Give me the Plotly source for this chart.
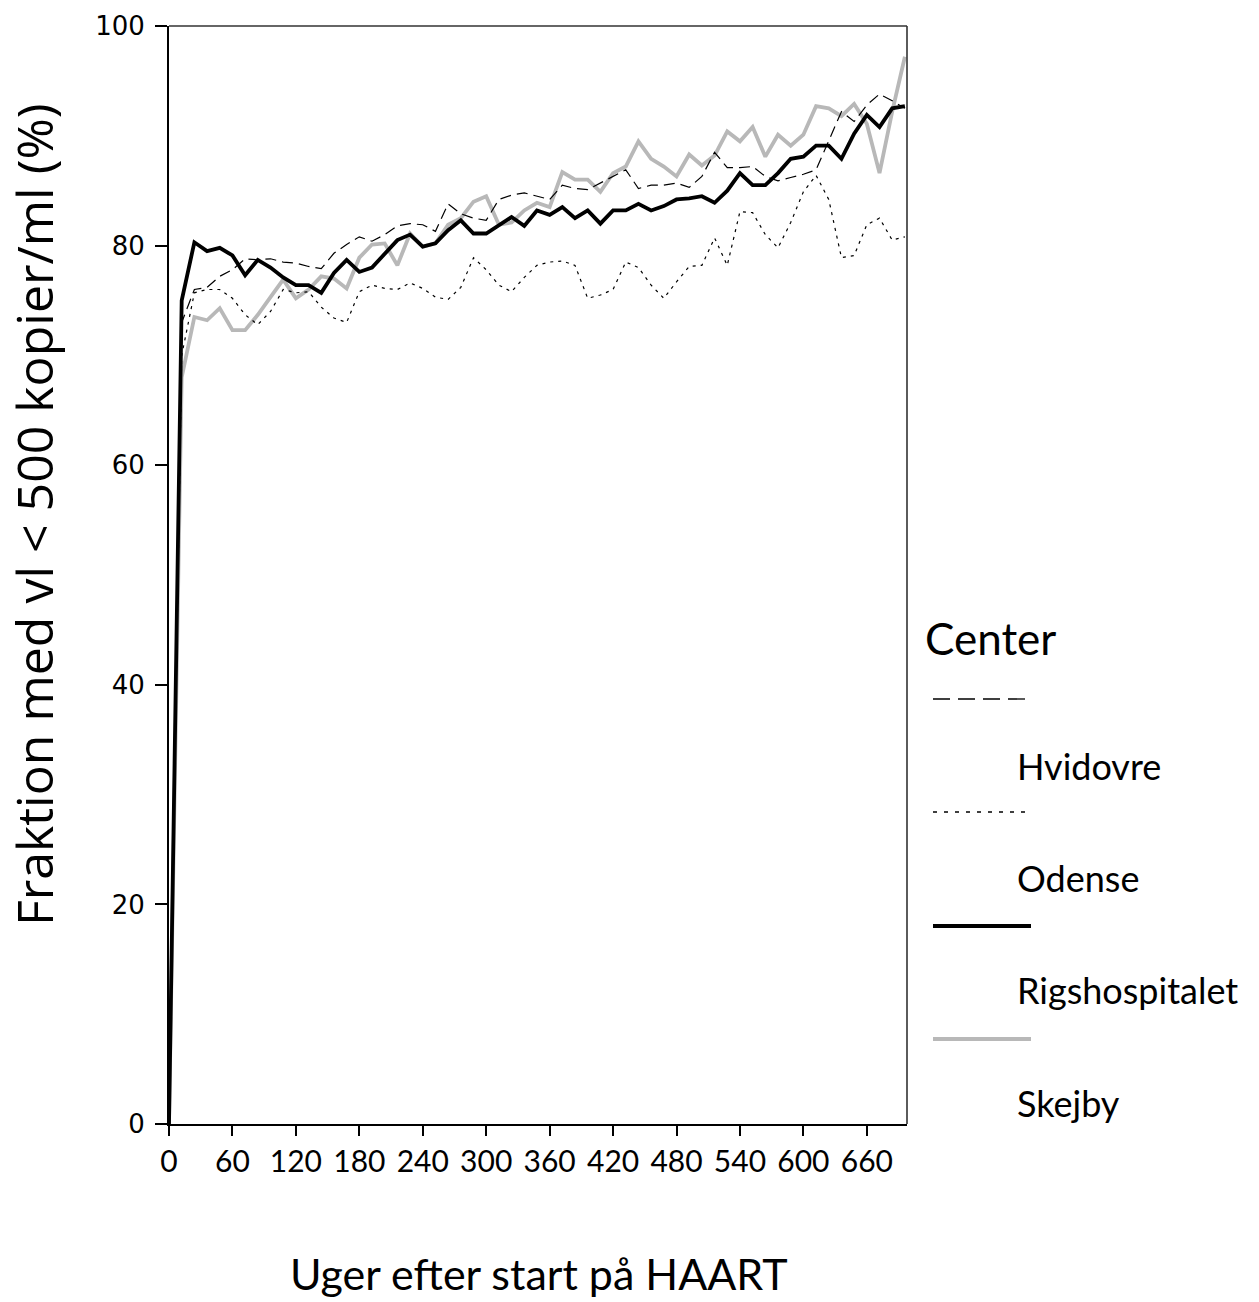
import plotly.graph_objects as go

weeks = [0, 12, 24, 36, 48, 60, 72, 84, 96, 108, 120, 132, 144, 156, 168, 180, 192, 204, 216, 228,
         240, 252, 264, 276, 288, 300, 312, 324, 336, 348, 360, 372, 384, 396, 408, 420, 432, 444, 456, 468,
         480, 492, 504, 516, 528, 540, 552, 564, 576, 588, 600, 612, 624, 636, 648, 660, 672, 684, 696]

hvidovre = [0, 73.0, 76.0, 76.2, 77.2, 77.8, 78.8, 78.7, 78.8, 78.5, 78.4, 78.1, 77.9, 79.3, 80.1, 80.8,
            80.4, 81.0, 81.8, 82.0, 81.9, 81.3, 83.8, 82.9, 82.5, 82.3, 84.2, 84.6, 84.8, 84.5, 84.2, 85.5,
            85.2, 85.1, 85.7, 86.3, 86.9, 85.2, 85.5, 85.5, 85.7, 85.3, 86.3, 88.5, 87.1, 87.1, 87.2, 86.3,
            85.9, 86.2, 86.5, 86.9, 89.6, 92.2, 91.3, 92.8, 93.8, 93.2, 92.5]

odense = [0, 70.0, 75.7, 76.0, 76.0, 75.2, 73.7, 72.8, 74.0, 76.0, 75.7, 75.8, 74.4, 73.4, 73.0, 75.8,
          76.4, 76.1, 76.0, 76.6, 76.1, 75.3, 75.1, 76.2, 78.9, 77.8, 76.4, 75.8, 77.1, 78.2, 78.5, 78.6,
          78.2, 75.2, 75.5, 76.0, 78.5, 78.0, 76.4, 75.2, 76.7, 78.1, 78.2, 80.7, 78.2, 83.1, 83.0, 81.0,
          79.8, 82.1, 84.9, 86.4, 84.2, 78.9, 79.1, 81.9, 82.5, 80.5, 80.8]

rigshospitalet = [0, 75.0, 80.3, 79.5, 79.8, 79.1, 77.3, 78.7, 78.0, 77.1, 76.4, 76.4, 75.7, 77.5, 78.7, 77.6,
                  78.0, 79.2, 80.5, 81.0, 79.9, 80.2, 81.4, 82.3, 81.1, 81.1, 81.9, 82.6, 81.8, 83.2, 82.8, 83.5,
                  82.5, 83.2, 82.0, 83.2, 83.2, 83.8, 83.2, 83.6, 84.2, 84.3, 84.5, 83.9, 85.0, 86.6, 85.5, 85.5,
                  86.6, 87.9, 88.1, 89.1, 89.1, 87.9, 90.2, 91.9, 90.8, 92.5, 92.7]

skejby = [0, 68.0, 73.5, 73.2, 74.3, 72.3, 72.3, 73.7, 75.3, 76.9, 75.2, 76.0, 77.2, 77.0, 76.1, 78.9,
          80.1, 80.2, 78.2, 81.1, 79.9, 80.2, 81.9, 82.5, 84.0, 84.5, 81.9, 82.1, 83.2, 83.9, 83.5, 86.7,
          86.0, 86.0, 84.9, 86.6, 87.2, 89.5, 87.9, 87.2, 86.3, 88.3, 87.3, 88.2, 90.4, 89.5, 90.8, 88.1,
          90.1, 89.1, 90.1, 92.7, 92.5, 91.8, 92.9, 91.1, 86.6, 92.2, 97.2]

x_ticks = [0, 60, 120, 180, 240, 300, 360, 420, 480, 540, 600, 660]
y_ticks = [0, 20, 40, 60, 80, 100]

centers = ["Hvidovre", "Odense", "Rigshospitalet", "Skejby"]
styles = {
    "Hvidovre": dict(color="black", width=1.2, dash="11px,6px"),
    "Odense": dict(color="black", width=1.2, dash="3px,5px"),
    "Rigshospitalet": dict(color="black", width=3.8, dash="solid"),
    "Skejby": dict(color="#b8b8b8", width=3.8, dash="solid"),
}
series = {"Hvidovre": hvidovre, "Odense": odense, "Rigshospitalet": rigshospitalet, "Skejby": skejby}

fig = go.Figure()
for name in ["Skejby", "Rigshospitalet", "Hvidovre", "Odense"]:
    fig.add_trace(go.Scatter(x=weeks, y=series[name], mode="lines", name=name,
                             line=styles[name], showlegend=False))

# plot area in pixels: left 169, right 907, top 26, bottom 1124
L, R, T, B = 169, 907, 26, 1124
W, H = R - L, B - T


def px(xp):
    return (xp - L) / W


def py(yp):
    return (B - yp) / H


shapes = [dict(type="line", xref="paper", yref="paper", x0=0, x1=1, y0=1, y1=1,
               line=dict(color="#333333", width=1.3)),
          dict(type="line", xref="paper", yref="paper", x0=1, x1=1, y0=0, y1=1,
               line=dict(color="#333333", width=1.6))]

legend_y_line = {"Hvidovre": 699, "Odense": 812, "Rigshospitalet": 926, "Skejby": 1039}
legend_y_text = {"Hvidovre": 766, "Odense": 878, "Rigshospitalet": 990, "Skejby": 1103}
legend_font = "Lato, Carlito, 'Open Sans', sans-serif"

annotations = [
    dict(text="Center", xref="paper", yref="paper", x=px(923), y=py(638), xanchor="left",
         yanchor="middle", showarrow=False, font=dict(family=legend_font, size=44, color="black")),
    dict(text="Fraktion med vl &lt; 500 kopier/ml (%)", xref="paper", yref="paper", x=px(34), y=py(515),
         xanchor="center", yanchor="middle", textangle=-90, showarrow=False,
         font=dict(family="'Open Sans', Lato, sans-serif", size=50, color="black")),
    dict(text="Uger efter start på HAART", xref="paper", yref="paper", x=px(539), y=py(1273),
         xanchor="center", yanchor="middle", showarrow=False,
         font=dict(family=legend_font, size=43, color="black")),
]
for name in centers:
    st = styles[name]
    shapes.append(dict(type="line", xref="paper", yref="paper", x0=px(933), x1=px(1031),
                       y0=py(legend_y_line[name]), y1=py(legend_y_line[name]),
                       line=dict(color=st["color"], width=st["width"] if st["width"] > 2 else 1.3,
                                 dash="17px,8px" if name == "Hvidovre" else ("4px,7px" if name == "Odense" else "solid"))))
    annotations.append(dict(text=name, xref="paper", yref="paper", x=px(1015), y=py(legend_y_text[name]),
                            xanchor="left", yanchor="middle", showarrow=False,
                            font=dict(family=legend_font, size=36, color="black")))

fig.update_layout(
    width=1259, height=1302,
    margin=dict(l=L, r=1259 - R, t=T, b=1302 - B, pad=0),
    paper_bgcolor="white", plot_bgcolor="white",
    showlegend=False,
    shapes=shapes,
    annotations=annotations,
    xaxis=dict(range=[0, 698], tickvals=x_ticks, ticktext=[str(v) for v in x_ticks],
               ticks="outside", ticklen=10, tickwidth=2, tickcolor="black",
               showline=True, linecolor="black", linewidth=2, showgrid=False, zeroline=False,
               tickfont=dict(family="Lato, sans-serif", size=30, color="black")),
    yaxis=dict(range=[0, 100], tickvals=y_ticks, ticktext=[str(v) for v in y_ticks],
               ticks="outside", ticklen=12, tickwidth=2, tickcolor="black",
               showline=True, linecolor="black", linewidth=2, showgrid=False, zeroline=False,
               ticklabelstandoff=5,
               tickfont=dict(family="'DejaVu Sans', sans-serif", size=26, color="black")),
)

fig.write_html("out.html")
